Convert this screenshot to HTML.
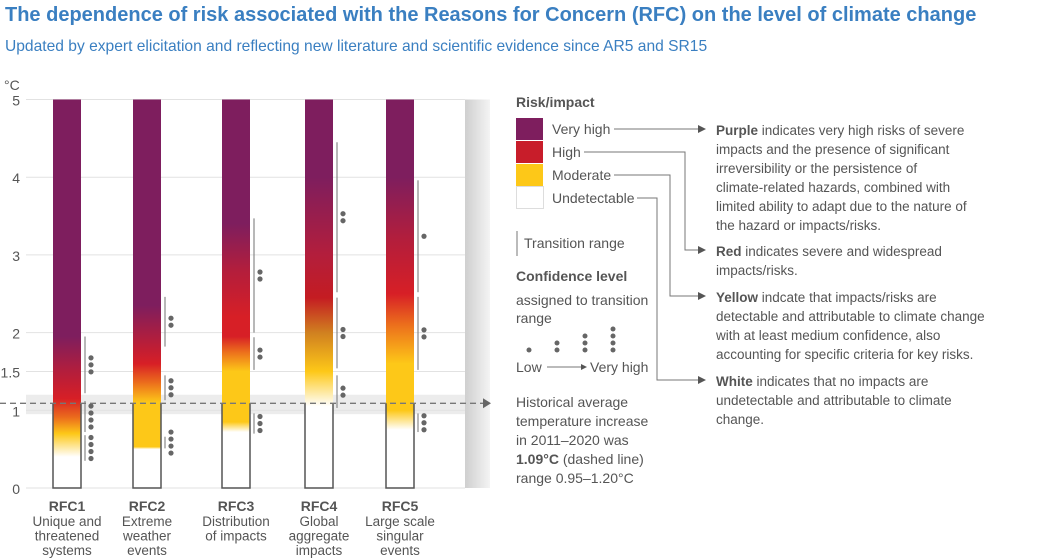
<!DOCTYPE html>
<html><head><meta charset="utf-8"><style>
body{margin:0;width:1054px;height:560px;background:#fff;overflow:hidden;font-family:"Liberation Sans",sans-serif}
svg{display:block}
</style></head><body>
<svg width="1054" height="560">
<defs><linearGradient id="shadeG" x1="0" x2="1" y1="0" y2="0"><stop offset="0" stop-color="#cfcfcf"/><stop offset="1" stop-color="#f4f4f4"/></linearGradient></defs>
<text x="5" y="21" font-size="20" font-weight="bold" fill="#3a7fc1">The dependence of risk associated with the Reasons for Concern (RFC) on the level of climate change</text>
<text x="5" y="51" font-size="15.6" fill="#3a7fc1">Updated by expert elicitation and reflecting new literature and scientific evidence since AR5 and SR15</text>
<g id="plot"></g>
<g id="legend" fill="#555" font-size="14">
<text x="516" y="107" font-weight="bold">Risk/impact</text>
<rect x="516" y="118" width="27" height="22" fill="#7e1e5e"/>
<rect x="516" y="141" width="27" height="22" fill="#c81d2a"/>
<rect x="516" y="164" width="27" height="22" fill="#fdc818"/>
<rect x="516.5" y="186.5" width="27" height="22" fill="#fff" stroke="#ddd"/>
<text x="552" y="134">Very high</text>
<text x="552" y="157">High</text>
<text x="552" y="180">Moderate</text>
<text x="552" y="203">Undetectable</text>
<g stroke="#777" fill="none" stroke-width="1">
<polyline points="614,129 698,129"/>
<polyline points="584,152 685,152 685,250 698,250"/>
<polyline points="614,175 670,175 670,296 698,296"/>
<polyline points="637,198 657,198 657,380 698,380"/>
<line x1="517" y1="231" x2="517" y2="256"/>
<line x1="547" y1="367" x2="581" y2="367"/>
</g>
<g fill="#555">
<polygon points="698,125 706,129 698,133"/><polygon points="698,246 706,250 698,254"/>
<polygon points="698,292 706,296 698,300"/><polygon points="698,376 706,380 698,384"/>
<polygon points="581,364 587,367 581,370"/>
</g>
<text x="524" y="248">Transition range</text>
<text x="516" y="281" font-weight="bold">Confidence level</text>
<text x="516" y="305">assigned to transition</text>
<text x="516" y="323">range</text>
<g fill="#666">
<circle cx="529" cy="350" r="2.5"/>
<circle cx="557" cy="343" r="2.5"/><circle cx="557" cy="350" r="2.5"/>
<circle cx="585" cy="336" r="2.5"/><circle cx="585" cy="343" r="2.5"/><circle cx="585" cy="350" r="2.5"/>
<circle cx="613" cy="329" r="2.5"/><circle cx="613" cy="336" r="2.5"/><circle cx="613" cy="343" r="2.5"/><circle cx="613" cy="350" r="2.5"/>
</g>
<text x="516" y="372">Low</text>
<text x="590" y="372">Very high</text>
<text x="516" y="407">Historical average</text>
<text x="516" y="426">temperature increase</text>
<text x="516" y="445">in 2011–2020 was</text>
<text x="516" y="464"><tspan font-weight="bold">1.09°C</tspan> (dashed line)</text>
<text x="516" y="483">range 0.95–1.20°C</text>
</g>
<g fill="#555" font-size="13.5">
<text x="716" y="135"><tspan font-weight="bold">Purple</tspan> indicates very high risks of severe</text>
<text x="716" y="154">impacts and the presence of significant</text>
<text x="716" y="173">irreversibility or the persistence of</text>
<text x="716" y="192">climate-related hazards, combined with</text>
<text x="716" y="211">limited ability to adapt due to the nature of</text>
<text x="716" y="230">the hazard or impacts/risks.</text>
<text x="716" y="256"><tspan font-weight="bold">Red</tspan> indicates severe and widespread</text>
<text x="716" y="275">impacts/risks.</text>
<text x="716" y="302"><tspan font-weight="bold">Yellow</tspan> indcate that impacts/risks are</text>
<text x="716" y="321">detectable and attributable to climate change</text>
<text x="716" y="340">with at least medium confidence, also</text>
<text x="716" y="359">accounting for specific criteria for key risks.</text>
<text x="716" y="386"><tspan font-weight="bold">White</tspan> indicates that no impacts are</text>
<text x="716" y="405">undetectable and attributable to climate</text>
<text x="716" y="424">change.</text>
</g>
</svg>
<script>
const ticks=[0,1,1.5,2,3,4,5];
const categories=["RFC1","RFC2","RFC3","RFC4","RFC5"];
const sublabels=[["Unique and","threatened","systems"],["Extreme","weather","events"],["Distribution","of impacts"],["Global","aggregate","impacts"],["Large scale","singular","events"]];
const gradStops=[
 [[0.4,"#fff"],[0.7,"#fdc818"],[0.9,"#ec6f1c"],[1.15,"#d71f26"],[1.5,"#b31e3c"],[1.95,"#7e1e5e"]],
 [[0.5,"#fff"],[0.53,"#fdc818"],[1.1,"#fdc818"],[1.35,"#ec6f1c"],[1.6,"#d71f26"],[1.9,"#b31e3c"],[2.35,"#7e1e5e"]],
 [[0.72,"#fff"],[0.85,"#fdc818"],[1.5,"#fdc818"],[1.75,"#ec6f1c"],[1.95,"#d71f26"],[2.2,"#d71f26"],[2.8,"#b31e3c"],[3.4,"#7e1e5e"]],
 [[1.05,"#fff"],[1.5,"#fdc818"],[2.0,"#d08020"],[2.45,"#c41c22"],[3.0,"#b31e3c"],[4.0,"#7e1e5e"]],
 [[0.75,"#fff"],[1.0,"#fdc818"],[1.6,"#fdc818"],[2.1,"#ec6f1c"],[2.5,"#d71f26"],[3.2,"#b31e3c"],[4.0,"#7e1e5e"]]];
const transitions=[
 [[1.22,1.95,3],[0.72,1.12,4],[0.35,0.68,4]],
 [[1.82,2.46,2],[1.13,1.45,3],[0.51,0.66,4]],
 [[2.0,3.47,2],[1.52,1.94,2],[0.7,0.96,3]],
 [[2.52,4.45,2],[1.54,2.45,2],[1.03,1.45,2]],
 [[2.52,3.96,1],[1.52,2.46,2],[0.72,0.96,3]]];
const historical=1.09, histLo=0.95, histHi=1.20;
const NS="http://www.w3.org/2000/svg";
const y=v=>488-v*77.7;
const slotLeft=[53,133,222,305,386];
const barX=i=>slotLeft[i];
const g=document.getElementById('plot');
function el(t,a,p){const e=document.createElementNS(NS,t);for(const k in a)e.setAttribute(k,a[k]);(p||g).appendChild(e);return e;}
el('rect',{x:26,y:y(5),width:439,height:y(0)-y(5),fill:"#fff"});
const sh=el('rect',{x:465,y:y(5),width:25,height:y(0)-y(5),fill:"url(#shadeG)"});


const band=el('rect',{x:26,y:y(histHi),width:439,height:y(histLo)-y(histHi),fill:"#ececec"});


ticks.forEach(t=>{
 const l=el('line',{x1:26,x2:465,y1:y(t),y2:y(t),stroke:"#e2e2e2"});
 
 
 const tx=el('text',{x:20,y:y(t)+6,"text-anchor":"end","font-size":14,fill:"#555"});
 tx.textContent=t;
 
 
});
const u=el('text',{x:4,y:90,"font-size":14,fill:"#555"});u.textContent="°C";


const defs=el('defs',{});
categories.forEach((c,i)=>{
 const x=barX(i),w=28;
 const lg=el('linearGradient',{id:"g"+i,gradientUnits:"userSpaceOnUse",x1:0,x2:0,y1:y(0),y2:y(5)},defs);
 gradStops[i].forEach(s=>el('stop',{offset:(s[0]/5),"stop-color":s[1]},lg));
 const b=el('rect',{x:x,y:y(5),width:w,height:y(0)-y(5),fill:"url(#g"+i+")"});
 
 
 el('polyline',{points:`${x},${y(historical)} ${x},${y(0)} ${x+w},${y(0)} ${x+w},${y(historical)}`,fill:"none",stroke:"#555","stroke-width":1.5});
 transitions[i].forEach(tr=>{
  const ln=el('line',{x1:x+w+4,x2:x+w+4,y1:y(tr[1]),y2:y(tr[0]),stroke:"#888","stroke-width":1.2});
  
  
  const mid=(y(tr[0])+y(tr[1]))/2;
  for(let k=0;k<tr[2];k++){
   const d=el('circle',{cx:x+w+10,cy:mid+(k-(tr[2]-1)/2)*7,r:2.6,fill:"#666"});
   
   
  }
 });
 const cx=x+w/2;
 const t=el('text',{x:cx,y:511,"text-anchor":"middle","font-size":14,"font-weight":"bold",fill:"#555"});
 t.textContent=c;
 
 
 sublabels[i].forEach((s,k)=>{
  const st=el('text',{x:cx,y:526+k*14.5,"text-anchor":"middle","font-size":13.5,fill:"#555"});
  st.textContent=s;
  
  
 });
});
const dl=el('line',{x1:0,x2:483,y1:y(historical),y2:y(historical),stroke:"#777","stroke-width":1.3,"stroke-dasharray":"6,4"});


el('polygon',{points:`483,${y(historical)-5} 491,${y(historical)} 483,${y(historical)+5}`,fill:"#666"});
</script>
</body></html>
